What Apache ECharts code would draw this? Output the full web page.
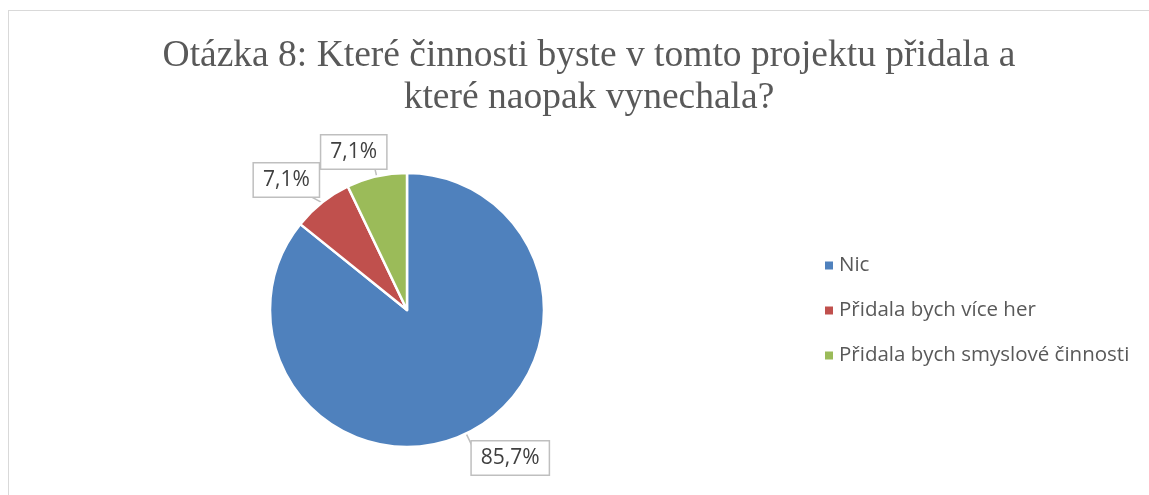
<!DOCTYPE html>
<html>
<head>
<meta charset="utf-8">
<script src="https://cdn.jsdelivr.net/npm/echarts@6/dist/echarts.min.js"></script>
<style>
  html, body { margin: 0; padding: 0; background: #fff; }
  #frame { position: absolute; left: 8px; top: 10px; width: 1160px; height: 500px; border: 1px solid #d9d9d9; box-sizing: border-box; }
  #chart { position: absolute; left: 0; top: 0; width: 1149px; height: 495px; }
</style>
</head>
<body>
<div id="frame"></div>
<div id="chart"></div>
<script>
// kategorie a hodnoty (v %)
const categories = ['Nic', 'Přidala bych více her', 'Přidala bych smyslové činnosti']
const values = [85.7, 7.1, 7.1]
const colors = ['#4F81BD', '#C0504D', '#9BBB59']

// posun popisků (Excel je dává trochu jinam než ECharts)
const labelShift = [[-11, 0], [25, -10], [20, 0]]
const lineLen = [27, 30, 25]

const chart = echarts.init(document.getElementById('chart'))

chart.setOption({
  animation: false,
  title: {
    text: 'Otázka 8: Které činnosti byste v tomto projektu přidala a\nkteré naopak vynechala?',
    left: 584,
    top: 30,
    textAlign: 'center',
    textStyle: {
      fontFamily: 'Liberation Serif',
      fontSize: 37.5,
      fontWeight: 'normal',
      color: '#595959',
      lineHeight: 42
    }
  },
  legend: {
    orient: 'vertical',
    left: 818,
    top: 250,
    itemWidth: 10,
    itemHeight: 10,
    itemGap: 24,
    icon: 'rect',
    textStyle: {
      fontFamily: 'Open Sans',
      fontSize: 20.5,
      color: '#595959'
    },
    data: categories
  },
  series: [{
    type: 'pie',
    center: [407, 310],
    radius: 137,
    startAngle: 90,
    clockwise: true,
    itemStyle: {
      borderColor: '#fff',
      borderWidth: 2.5
    },
    label: {
      show: true,
      position: 'outside',
      fontFamily: 'Open Sans',
      fontSize: 21,
      color: '#404040',
      backgroundColor: '#fff',
      borderColor: '#bfbfbf',
      borderWidth: 1.5,
      padding: [7, 9, 5, 9],
      formatter: p => p.value.toFixed(1).replace('.', ',') + '%'
    },
    labelLine: {
      show: true,
      length: 8,
      length2: 0,
      lineStyle: { color: '#bfbfbf', width: 1.5 }
    },
    labelLayout: p => ({ dx: labelShift[p.dataIndex][0], dy: labelShift[p.dataIndex][1] }),
    data: categories.map((c, i) => ({
      name: c,
      value: values[i],
      itemStyle: { color: colors[i] },
      labelLine: { length: lineLen[i] }
    }))
  }]
})
</script>
</body>
</html>
